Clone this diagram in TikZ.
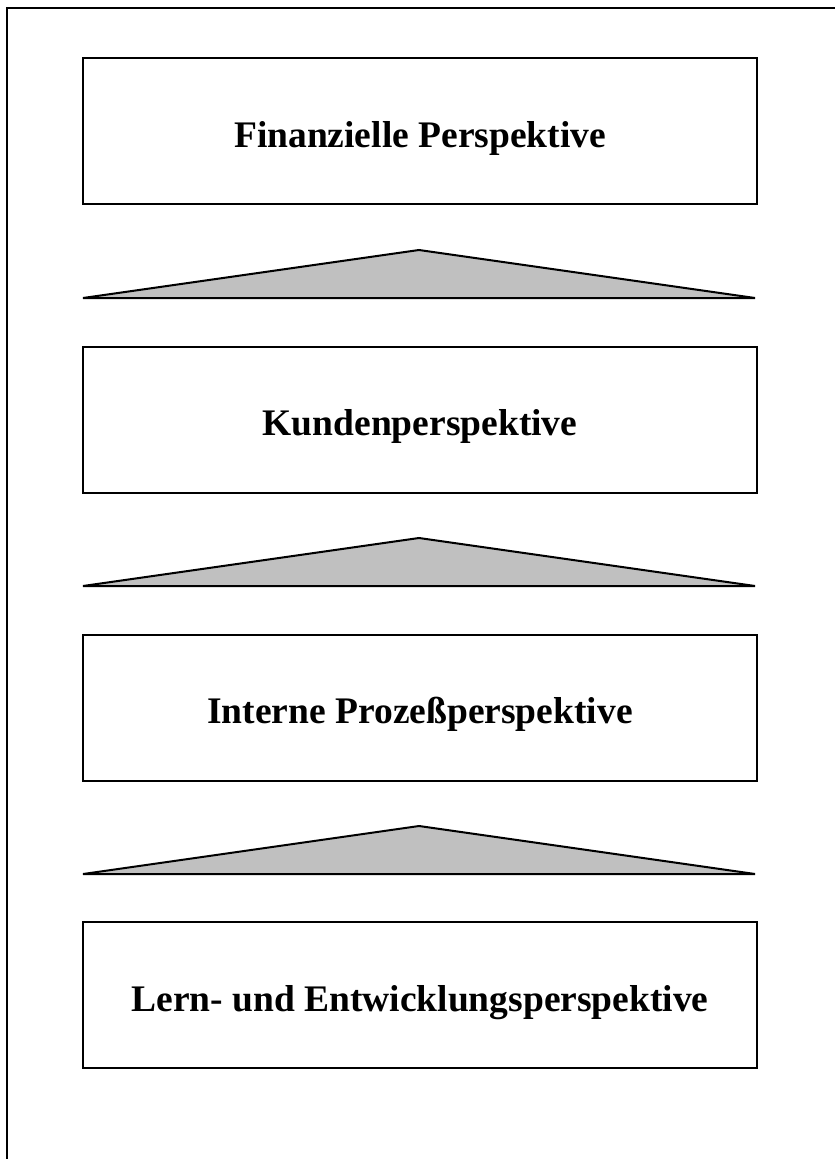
\documentclass[tikz,border=0pt]{standalone}
\usepackage{fontspec}
\setmainfont{Liberation Serif}
\definecolor{wedgegray}{RGB}{192,192,192}
\begin{document}
\begin{tikzpicture}[x=1pt,y=-1pt,
  persp/.style={draw=black, line width=2pt, minimum width=674pt, minimum height=146pt,
    inner sep=0pt, text height=32pt, text depth=0pt,
    font=\fontsize{37.5}{44}\selectfont\bfseries},
  wedge/.style={draw=black, fill=wedgegray, line width=2pt, line join=miter},
  frame/.style={draw=black, line width=2.2pt}]
  \useasboundingbox (0,0) rectangle (835,1159);
  % outer frame, running off the page to the right and bottom
  \draw[frame] (7,1170) -- (7,8) -- (850,8);
  % the four perspectives
  \node[persp] (fin)  at (420,131) {Finanzielle Perspektive};
  \node[persp] (kun)  at (420,419.5) {Kundenperspektive};
  \node[persp] (proz) at (420,707.5) {Interne Prozeßperspektive};
  \node[persp] (lern) at (420,995) {Lern- und Entwicklungsperspektive};
  % flat wedges between the boxes
  \foreach \b in {298,586,874} {
    \draw[wedge] (83,\b) -- (419,\b-48) -- (755,\b) -- cycle;
  }
\end{tikzpicture}
\end{document}
